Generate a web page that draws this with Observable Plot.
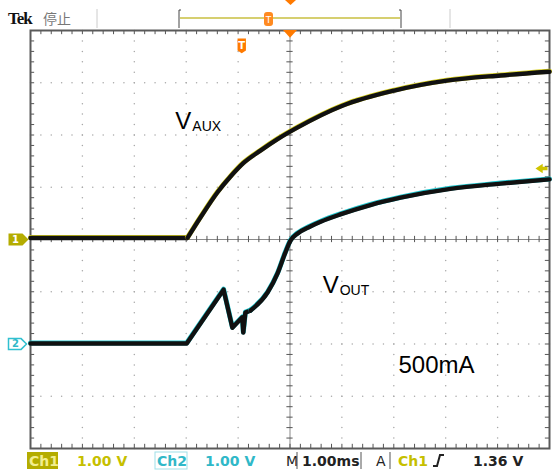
<!DOCTYPE html>
<html><head><meta charset="utf-8">
<script src="https://cdn.jsdelivr.net/npm/d3@7"></script>
<script src="https://cdn.jsdelivr.net/npm/@observablehq/plot@0.6"></script>
<style>
body{margin:0;background:#fff;}
#chart{position:relative;width:552px;height:470px;overflow:hidden;}
</style>
</head><body><div id="chart"></div>
<script>
// Time in ms (1 ms/div, trigger at centre), amplitude in divisions (1 V/div)
const ch1Time  = [-5, -1.975, -1.72, -1.40, -1.15, -0.90, -0.57, -0.24, 0.14, 1.01, 2.01, 3.02, 4.06, 5.0];
const ch1Volts = [0.03, 0.03, 0.43, 0.90, 1.20, 1.46, 1.70, 1.92, 2.14, 2.56, 2.85, 3.04, 3.14, 3.21];
const ch2Time  = [-5, -1.99, -1.28, -1.11, -0.92, -0.90, -0.86, -0.76, -0.43, -0.24, -0.09, 0.01, 0.14, 0.39, 0.59, 0.97, 1.55, 2.13, 3.09, 4.06, 5.0];
const ch2Volts = [-1.99, -1.99, -0.96, -1.69, -1.49, -1.78, -1.40, -1.36, -1.01, -0.65, -0.25, -0.02, 0.11, 0.25, 0.34, 0.48, 0.66, 0.80, 0.97, 1.07, 1.15];
const ch1Knee = -1.975, ch2Smooth = -0.76;
const ch1Offset = 0, ch2Offset = -2, trigLevel = 1.36, trigPoint = -0.93;
const annX = [-2.21, 0.63, 2.09];
const annY = [2.12, -1.03, -2.56];
const annMain = ["V", "V", "500mA"];
const annSub = ["AUX", "OUT", ""];
const footerTexts = ["Ch1", "1.00 V", "Ch2", "1.00 V", "M", "1.00ms", "A", "Ch1", "1.36 V"];

const ch1 = ch1Time.map((t, i) => ({t, v: ch1Volts[i]}));
const ch2 = ch2Time.map((t, i) => ({t, v: ch2Volts[i]}));
const ch1A = ch1.filter(d => d.t <= ch1Knee), ch1B = ch1.filter(d => d.t >= ch1Knee);
const ch2A = ch2.filter(d => d.t <= ch2Smooth), ch2B = ch2.filter(d => d.t >= ch2Smooth);
const ann = annX.map((x, i) => ({x, y: annY[i], main: annMain[i], sub: annSub[i]}));

const fine = d3.range(-25, 26).map(i => i / 5);
const fineY = d3.range(-20, 21).map(i => i / 5);
const gridPts = [];
for (let k = -4; k <= 4; k++) if (k !== 0) for (const y of fineY) gridPts.push({x: k, y});
for (let j = -3; j <= 3; j++) if (j !== 0) for (const x of fine) gridPts.push({x, y: j});

const R = s => Math.sqrt(s / Math.PI);
const symArrowL = {draw(c, s){ const r = R(s); c.moveTo(-r, 0); c.lineTo(r*0.2, -r*0.8); c.lineTo(r*0.2, -r*0.3); c.lineTo(r, -r*0.3); c.lineTo(r, r*0.3); c.lineTo(r*0.2, r*0.3); c.lineTo(r*0.2, r*0.8); c.closePath(); }};
const symPent = {draw(c, s){ const r = R(s); c.moveTo(-r, -r*0.6); c.lineTo(r*0.4, -r*0.6); c.lineTo(r, 0); c.lineTo(r*0.4, r*0.6); c.lineTo(-r, r*0.6); c.closePath(); }};
const symTri = {draw(c, s){ const r = R(s); c.moveTo(-r, -r*0.5); c.lineTo(r, -r*0.5); c.lineTo(0, r*0.6); c.closePath(); }};
const symTag = {draw(c, s){ const r = R(s); c.moveTo(-r*0.6, -r); c.lineTo(r*0.6, -r); c.lineTo(r*0.6, r*0.7); c.lineTo(0, r*1.1); c.lineTo(-r*0.6, r*0.7); c.closePath(); }};

const tk = {stroke: "#555", strokeWidth: 1};
const trace = (data, curve, halo) => [
  Plot.line(data, {x: "t", y: "v", curve, stroke: halo, strokeWidth: 5, dy: -0.5}),
  Plot.line(data, {x: "t", y: "v", curve, stroke: "#111", strokeWidth: 4.4})
];
const plot = Plot.plot({
  width: 552, height: 470,
  marginLeft: 30, marginRight: 3, marginTop: 30, marginBottom: 22,
  x: {domain: [-5, 5], axis: null},
  y: {domain: [-4, 4], axis: null},
  style: {background: "transparent", overflow: "visible"},
  marks: [
    Plot.dot(gridPts, {x: "x", y: "y", r: 0.75, fill: "#a8a8a8", stroke: null}),
    Plot.ruleX([0], {stroke: "#8a8a8a", strokeWidth: 1}),
    Plot.ruleY([0], {stroke: "#8a8a8a", strokeWidth: 1}),
    // graticule minor ticks (crosshair and frame edges)
    Plot.ruleX(fine, {x: d => d, y1: -0.06, y2: 0.06, ...tk}),
    Plot.ruleY(fineY, {y: d => d, x1: -0.06, x2: 0.06, ...tk}),
    Plot.ruleX(fine, {x: d => d, y1: 4, y2: 3.92, ...tk}),
    Plot.ruleX(fine, {x: d => d, y1: -4, y2: -3.92, ...tk}),
    Plot.ruleY(fineY, {y: d => d, x1: -5, x2: -4.92, ...tk}),
    Plot.ruleY(fineY, {y: d => d, x1: 5, x2: 4.92, ...tk}),
    Plot.frame({stroke: "#5a5a5a", strokeWidth: 2}),
    // traces
    ...trace(ch1A, "linear", "#d8d020"),
    ...trace(ch1B, "monotone-x", "#d8d020"),
    ...trace(ch2A, "linear", "#20c8d0"),
    ...trace(ch2B, "monotone-x", "#20c8d0"),
    // markers
    Plot.dot([ch1Offset], {x: () => -5, y: d => d, symbol: symPent, r: 10, dx: -12, fill: "#b4ac00", stroke: null}),
    Plot.text([ch1Offset], {x: () => -5, y: d => d, text: () => "1", dx: -15, fill: "white", fontSize: 10, fontWeight: "bold", fontFamily: "DejaVu Sans"}),
    Plot.dot([ch2Offset], {x: () => -5, y: d => d, symbol: symPent, r: 9, dx: -13, fill: "white", stroke: "#30c0d0", strokeWidth: 1.5}),
    Plot.text([ch2Offset], {x: () => -5, y: d => d, text: () => "2", dx: -15, fill: "#30b8c8", fontSize: 10, fontWeight: "bold", fontFamily: "DejaVu Sans"}),
    Plot.dot([trigLevel], {x: () => 5, y: d => d, symbol: symArrowL, r: 6, dx: -8, fill: "#d0c400", stroke: null}),
    Plot.dot([0], {x: d => d, y: () => 4, symbol: symTri, r: 7, dy: 3, fill: "#ff7a00", stroke: null}),
    Plot.dot([trigPoint], {x: d => d, y: () => 4, symbol: symTag, r: 7, dy: 15, fill: "#ff7a00", stroke: null}),
    Plot.text([trigPoint], {x: d => d, y: () => 4, text: () => "T", dy: 15, fill: "white", fontSize: 10, fontWeight: "bold", fontFamily: "DejaVu Sans"}),
    // annotations
    Plot.text(ann, {x: "x", y: "y", text: "main", textAnchor: "start", lineAnchor: "bottom", fontSize: 24, fontFamily: "Liberation Sans, Arial", fill: "#000"}),
    Plot.text(ann, {x: "x", y: "y", text: "sub", textAnchor: "start", lineAnchor: "bottom", dx: 17, dy: 2, fontSize: 14, fontFamily: "Liberation Sans, Arial", fill: "#000"})
  ]
});
document.getElementById("chart").appendChild(plot);

// oscilloscope chrome: header and status bar
const svg = d3.select(plot);
const hdr = svg.append("g").attr("text-anchor", "start");
hdr.append("text").attr("x", 8).attr("y", 24).text("Tek").attr("font-family", "Liberation Serif, DejaVu Serif").attr("font-weight", "bold").attr("font-size", 17).attr("letter-spacing", -1).attr("fill", "#111");
hdr.append("text").attr("x", 43).attr("y", 24).text("停止").attr("font-family", "Noto Sans CJK SC").attr("font-size", 14).attr("fill", "#777");
hdr.append("line").attr("x1", 97).attr("x2", 97).attr("y1", 9).attr("y2", 28).attr("stroke", "#ccc");
hdr.append("line").attr("x1", 450).attr("x2", 450).attr("y1", 9).attr("y2", 28).attr("stroke", "#ccc");
hdr.append("path").attr("d", "M181,10 L179,10 L179,28 M399,10 L401,10 L401,28").attr("stroke", "#444").attr("fill", "none");
hdr.append("line").attr("x1", 180).attr("x2", 400).attr("y1", 18).attr("y2", 18).attr("stroke", "#d6cf70").attr("stroke-width", 2);
hdr.append("rect").attr("x", 264).attr("y", 12).attr("width", 9).attr("height", 14).attr("rx", 3).attr("fill", "#ff8a20");
hdr.append("text").attr("x", 268.5).attr("y", 23).text("T").attr("text-anchor", "middle").attr("font-size", 9).attr("font-family", "DejaVu Sans").attr("fill", "#fff");
hdr.append("path").attr("d", "M285,0 L296,0 L290.5,5 Z").attr("fill", "#ff7a00");

const ft = svg.append("g").attr("font-family", "DejaVu Sans").attr("font-size", 14).attr("font-weight", "bold").attr("text-anchor", "start");
ft.append("rect").attr("x", 27).attr("y", 452).attr("width", 31).attr("height", 17).attr("fill", "#b4ac00");
ft.append("rect").attr("x", 155).attr("y", 452).attr("width", 32).attr("height", 17).attr("fill", "none").attr("stroke", "#9fe0e8");
const fPos = [[29, "#f2ee90"], [77, "#c6bf00"], [157, "#30b8c8"], [205, "#30b8c8"], [286, "#222"], [302, "#222"], [376, "#222"], [398, "#c6bf00"], [473, "#222"]];
footerTexts.forEach((s, i) => {
  ft.append("text").attr("x", fPos[i][0]).attr("y", 466).text(s).attr("fill", fPos[i][1]).attr("font-weight", i === 4 || i === 6 ? "normal" : "bold");
});
ft.append("path").attr("d", "M433,466 L437,466 L440,455 L444,455").attr("stroke", "#222").attr("stroke-width", 2).attr("fill", "none");
[297, 361, 390].forEach(x => ft.append("line").attr("x1", x).attr("x2", x).attr("y1", 452).attr("y2", 469).attr("stroke", "#555"));
</script>
</body></html>
